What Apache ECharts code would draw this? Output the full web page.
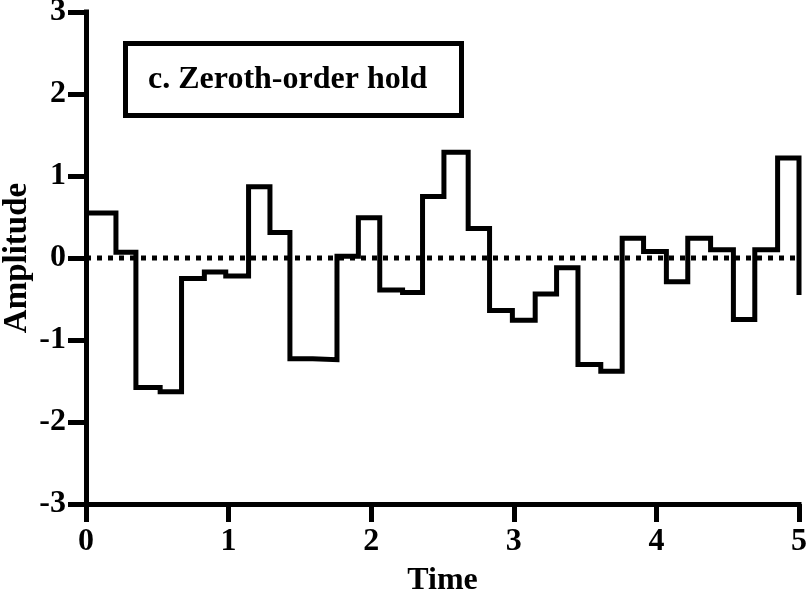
<!DOCTYPE html>
<html>
<head>
<meta charset="utf-8">
<script src="https://cdn.jsdelivr.net/npm/echarts@6/dist/echarts.min.js"></script>
<style>
html,body{margin:0;padding:0;background:#fff;}
#chart{width:806px;height:590px;}
</style>
</head>
<body>
<div id="chart"></div>
<script>
var times = [0, 0.21, 0.35, 0.52, 0.67, 0.83, 0.98, 1.14, 1.29, 1.43, 1.59, 1.76, 1.91, 2.06, 2.22, 2.36, 2.51, 2.68, 2.83, 2.99, 3.15, 3.30, 3.45, 3.61, 3.76, 3.91, 4.07, 4.22, 4.38, 4.54, 4.69, 4.85, 5.0];
var amplitudes = [0.55, 0.07, -1.58, -1.63, -0.25, -0.17, -0.22, 0.87, 0.31, -1.23, -1.24, 0.02, 0.49, -0.39, -0.42, 0.75, 1.29, 0.36, -0.64, -0.76, -0.44, -0.12, -1.30, -1.38, 0.24, 0.08, -0.29, 0.24, 0.10, -0.75, 0.10, 1.22, -0.45];
var zeroLineX = [0, 5];
var zeroLineY = [0, 0];
var xTicks = [0, 1, 2, 3, 4, 5];
var yTicks = [-3, -2, -1, 0, 1, 2, 3];
var titleText = 'c. Zeroth-order hold';
var xName = 'Time';
var yName = 'Amplitude';

var FONT = '"Liberation Serif", "Times New Roman", serif';
var chart = echarts.init(document.getElementById('chart'), null, {renderer: 'canvas'});

var stepData = times.map(function (t, i) { return [t, amplitudes[i]]; });
var zeroData = zeroLineX.map(function (t, i) { return [t, zeroLineY[i]]; });

var axisCommon = {
  axisLine: {show: true, onZero: false, lineStyle: {color: '#000', width: 5, cap: 'square'}},
  axisTick: {show: true, inside: false, length: 18, lineStyle: {color: '#000', width: 5}},
  splitLine: {show: false},
  nameMoveOverlap: false,
  nameTextStyle: {color: '#000', fontFamily: FONT, fontWeight: 'bold', fontSize: 32}
};

chart.setOption({
  animation: false,
  backgroundColor: '#fff',
  title: {
    text: titleText,
    left: 125,
    top: 44,
    padding: [20, 34, 20, 23],
    borderColor: '#000',
    borderWidth: 5,
    textStyle: {color: '#000', fontFamily: FONT, fontWeight: 'bold', fontSize: 32, lineHeight: 31}
  },
  grid: {left: 86, right: 7, top: 12, bottom: 86, containLabel: false, outerBoundsMode: 'none'},
  xAxis: Object.assign({}, axisCommon, {
    type: 'value', min: 0, max: 5, interval: 1,
    name: xName, nameLocation: 'middle', nameGap: 61,
    axisLabel: {color: '#000', fontFamily: FONT, fontWeight: 'bold', fontSize: 32, margin: 22,
      formatter: function (v) { return xTicks.indexOf(v) >= 0 ? String(v) : ''; }}
  }),
  yAxis: Object.assign({}, axisCommon, {
    type: 'value', min: -3, max: 3, interval: 1,
    name: yName, nameLocation: 'middle', nameGap: 52, nameRotate: 90,
    nameTextStyle: {color: '#000', fontFamily: FONT, fontWeight: 'bold', fontSize: 33},
    axisLabel: {color: '#000', fontFamily: FONT, fontWeight: 'bold', fontSize: 32, margin: 20,
      formatter: function (v) { return yTicks.indexOf(v) >= 0 ? String(v) : ''; }}
  }),
  series: [
    {
      type: 'line', data: zeroData, symbol: 'none', silent: true,
      lineStyle: {color: '#000', width: 5, type: [5, 6], cap: 'butt'},
      z: 1
    },
    {
      type: 'line', data: stepData, step: 'end', symbol: 'none', silent: true,
      lineStyle: {color: '#000', width: 5, join: 'miter', cap: 'butt'},
      clip: false,
      z: 2
    }
  ]
});
</script>
</body>
</html>
